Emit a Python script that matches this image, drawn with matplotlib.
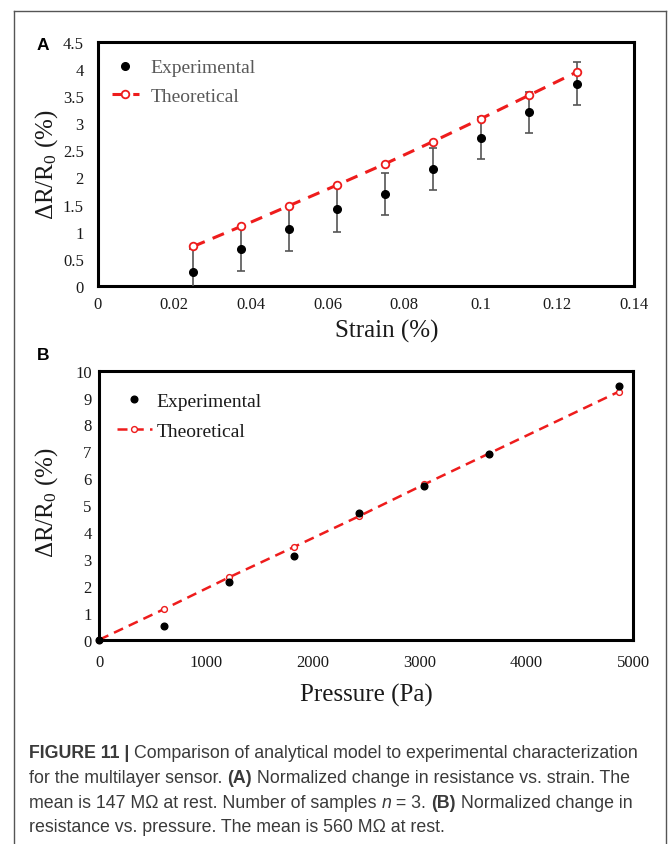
import matplotlib
matplotlib.use("Agg")
import matplotlib.pyplot as plt
from matplotlib.lines import Line2D
from matplotlib.ticker import FuncFormatter, MultipleLocator

# ---------------- data ----------------
strain = [0.025, 0.0375, 0.05, 0.0625, 0.075, 0.0875, 0.1, 0.1125, 0.125]
exp_a = [0.25, 0.69, 1.05, 1.41, 1.69, 2.16, 2.73, 3.20, 3.73]
err_a = [0.43, 0.41, 0.40, 0.41, 0.39, 0.39, 0.39, 0.38, 0.39]
theo_a = [0.73, 1.10, 1.48, 1.86, 2.25, 2.66, 3.08, 3.51, 3.94]

pressure = [0, 608, 1216, 1824, 2432, 3040, 3648, 4864]
exp_b = [0.0, 0.52, 2.16, 3.11, 4.72, 5.73, 6.91, 9.44]
theo_b = [0.0, 1.14, 2.32, 3.45, 4.59, 5.77, 6.92, 9.22]

legend_labels = ["Experimental", "Theoretical"]
xlabel_a = "Strain (%)"
xlabel_b = "Pressure (Pa)"
ylabel = r"ΔR/R$_{0}$ (%)"

caption_lines = [
    [("FIGURE 11 | ", "bold"), ("Comparison of analytical model to experimental characterization", "normal")],
    [("for the multilayer sensor. ", "normal"), ("(A)", "bold"),
     (" Normalized change in resistance vs. strain. The", "normal")],
    [("mean is 147 MΩ at rest. Number of samples ", "normal"), ("n", "italic"),
     (" = 3. ", "normal"), ("(B)", "bold"), (" Normalized change in", "normal")],
    [("resistance vs. pressure. The mean is 560 MΩ at rest.", "normal")],
]

# ---------------- style ----------------
plt.rcParams["font.family"] = ["Liberation Serif", "DejaVu Serif"]
plt.rcParams["mathtext.fontset"] = "custom"
plt.rcParams["mathtext.rm"] = "Liberation Serif"
plt.rcParams["mathtext.it"] = "Liberation Serif:italic"

RED = "#ee1c1c"
W, H = 669, 845
fig = plt.figure(figsize=(W / 100, H / 100), dpi=100)
fig.patch.set_facecolor("white")


def px_axes(l, t, r, b):
    return [l / W, 1 - b / H, (r - l) / W, (b - t) / H]


fmt = FuncFormatter(lambda v, p: "{:g}".format(round(v, 4)))


def style_axes(ax, xpad, ypad):
    for s in ax.spines.values():
        s.set_linewidth(2.2)
        s.set_color("black")
    ax.tick_params(length=0, labelsize=12, colors="#1a1a1a")
    ax.tick_params(axis="x", pad=xpad)
    ax.tick_params(axis="y", pad=ypad)
    ax.xaxis.set_major_formatter(fmt)
    ax.yaxis.set_major_formatter(fmt)


# ---------------- panel A ----------------
axA = fig.add_axes(px_axes(97.7, 42.7, 634, 287))
axA.errorbar(strain, exp_a, yerr=err_a, fmt="o", color="black", ms=5.5,
             ecolor="#555555", elinewidth=1.2, capsize=3, capthick=1.2, zorder=3)
axA.plot(strain, theo_a, ls=(0, (4, 2.8)), lw=2.2, color=RED, marker="o",
         ms=5.5, mfc="white", mec=RED, mew=1.3, zorder=4)
axA.set_xlim(0, 0.14)
axA.set_ylim(0, 4.5)
axA.xaxis.set_major_locator(MultipleLocator(0.02))
axA.yaxis.set_major_locator(MultipleLocator(0.5))
style_axes(axA, 7, 10)
axA.set_xlabel(xlabel_a, fontsize=18, color="#1a1a1a")
axA.xaxis.set_label_coords(0.539, -0.135)
axA.set_ylabel(ylabel, fontsize=18, color="#1a1a1a")
axA.yaxis.set_label_coords(-0.07, 0.5)

hA = [Line2D([], [], ls="none", marker="o", color="black", ms=5.5),
      Line2D([], [], ls=(0, (4, 2.8)), lw=2.2, color=RED, marker="o", ms=5.5,
             mfc="white", mec=RED, mew=1.3)]
legA = axA.legend(hA, legend_labels, loc="upper left", bbox_to_anchor=(0.026, 0.93),
                  frameon=False, fontsize=14, handlelength=1.4, handletextpad=0.6,
                  labelspacing=0.55, borderpad=0, borderaxespad=0)
for t in legA.get_texts():
    t.set_color("#595959")

# ---------------- panel B ----------------
axB = fig.add_axes(px_axes(99.3, 371.7, 633.3, 640.7))
axB.plot(pressure, theo_b, ls=(0, (4, 2.5)), lw=1.8, color=RED, marker="o",
         ms=4.2, mfc="white", mec=RED, mew=1.0, zorder=3, clip_on=False)
axB.plot(pressure, exp_b, ls="none", marker="o", color="black", ms=4.8,
         zorder=4, clip_on=False)
axB.set_xlim(0, 5000)
axB.set_ylim(0, 10)
axB.xaxis.set_major_locator(MultipleLocator(1000))
axB.yaxis.set_major_locator(MultipleLocator(1))
style_axes(axB, 10, 5.5)
axB.set_xlabel(xlabel_b, fontsize=18, color="#1a1a1a")
axB.xaxis.set_label_coords(0.5, -0.16)
axB.set_ylabel(ylabel, fontsize=18, color="#1a1a1a")
axB.yaxis.set_label_coords(-0.074, 0.512)

hB = [Line2D([], [], ls="none", marker="o", color="black", ms=4.8),
      Line2D([], [], ls=(0, (4, 2.5)), lw=1.8, color=RED, marker="o", ms=4.2,
             mfc="white", mec=RED, mew=1.0)]
legB = axB.legend(hB, legend_labels, loc="upper left", bbox_to_anchor=(0.0326, 0.92),
                  frameon=False, fontsize=14, handlelength=1.8, handletextpad=0.25,
                  labelspacing=0.65, borderpad=0, borderaxespad=0)
for t in legB.get_texts():
    t.set_color("#1a1a1a")

# ---------------- panel letters ----------------
fig.text(37 / W, 1 - 45 / H, "A", family="Liberation Sans", fontweight="bold",
         fontsize=12.5, va="center", ha="left")
fig.text(37 / W, 1 - 356 / H, "B", family="Liberation Sans", fontweight="bold",
         fontsize=12.5, va="center", ha="left")

# ---------------- outer frame ----------------
for xs, ys in [([14, 14], [12, H]), ([666, 666], [12, H]), ([14, 666], [12, 12])]:
    fig.add_artist(Line2D([x / W for x in xs], [1 - y / H for y in ys],
                          transform=fig.transFigure, color="#555555", lw=1.0))

# ---------------- caption ----------------
renderer = fig.canvas.get_renderer()
cap_size = 12.8
cap_color = "#3a3a3a"


def seg_width(text, weight, style):
    t1 = fig.text(0, 0, text + "x", family="Liberation Sans", fontsize=cap_size,
                  fontweight=weight, fontstyle=style)
    t2 = fig.text(0, 0, "x", family="Liberation Sans", fontsize=cap_size,
                  fontweight=weight, fontstyle=style)
    w = t1.get_window_extent(renderer).width - t2.get_window_extent(renderer).width
    t1.remove()
    t2.remove()
    return w


baselines = [758, 783, 808, 832]
for segs, yb in zip(caption_lines, baselines):
    x = 29.0
    for text, kind in segs:
        weight = "bold" if kind == "bold" else "normal"
        style = "italic" if kind == "italic" else "normal"
        fig.text(x / W, 1 - yb / H, text, family="Liberation Sans", fontsize=cap_size,
                 fontweight=weight, fontstyle=style, color=cap_color,
                 va="baseline", ha="left")
        x += seg_width(text, weight, style)

fig.savefig("out.png", dpi=100, facecolor="white")
